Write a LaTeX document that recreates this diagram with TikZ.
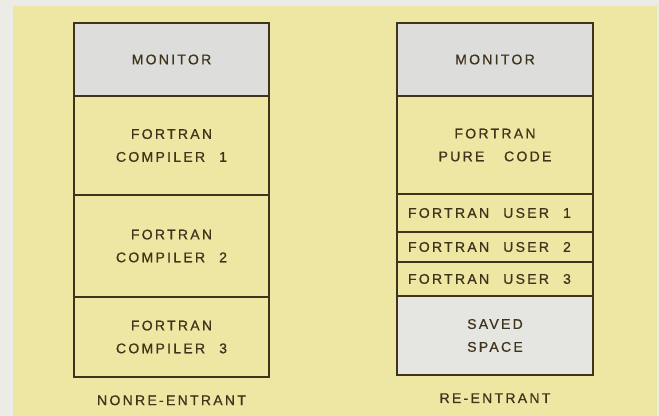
\documentclass[tikz,border=0pt]{standalone}
\usepackage{fontspec}
\setmainfont{Liberation Sans}[LetterSpace=16, FakeBold=0.7]
\usepackage{tikz}
\usetikzlibrary{positioning}
\definecolor{pagegray}{RGB}{236,236,231}
\definecolor{memyellow}{RGB}{238,231,163}
\definecolor{monitorgray}{RGB}{221,222,219}
\definecolor{savedgray}{RGB}{229,229,226}
\definecolor{inkbrown}{RGB}{62,52,28}
\newcommand{\wgap}{\hspace{1em}}

\begin{document}
\begin{tikzpicture}[
    memcell/.style={draw=inkbrown, line width=1.1pt, fill=memyellow, text=inkbrown,
        font=\fontsize{8}{13}\selectfont, align=center, inner sep=0pt},
    usercell/.style={memcell, text width=3.48cm, inner xsep=0.22cm, align=left},
    caption/.style={text=inkbrown, font=\fontsize{8}{10}\selectfont, inner sep=0pt}
]
    % Nền
    \useasboundingbox (0,0) rectangle (13.18,8.32);
    \fill[pagegray] (0,0) rectangle (13.18,8.32);
    \fill[memyellow] (0.26,0) rectangle (13.14,8.2);

    % Cột trái
    \node[memcell, fill=monitorgray, minimum width=3.9cm, minimum height=1.46cm] (mon_l) at (3.43, 7.13) {MONITOR};
    \node[memcell, minimum width=3.9cm, minimum height=1.98cm] (comp_a) at (3.43, 5.41) {FORTRAN\\COMPILER\wgap 1};
    \node[memcell, minimum width=3.9cm, minimum height=2.04cm] (comp_b) at (3.43, 3.40) {FORTRAN\\COMPILER\wgap 2};
    \node[memcell, minimum width=3.9cm, minimum height=1.6cm] (comp_c) at (3.43, 1.58) {FORTRAN\\COMPILER\wgap 3};
    \node[caption, below=0.34cm of comp_c] (lbl_l) {NONRE-ENTRANT};

    % Cột phải
    \node[memcell, fill=monitorgray, minimum width=3.92cm, minimum height=1.46cm] (mon_r) at (9.9, 7.13) {MONITOR};
    \node[memcell, minimum width=3.92cm, minimum height=1.96cm] (pure) at (9.9, 5.42) {FORTRAN\\PURE\hspace{1.4em}CODE};
    \node[usercell, minimum height=0.76cm] (user_a) at (9.9, 4.06) {FORTRAN\wgap USER\wgap 1};
    \node[usercell, minimum height=0.6cm] (user_b) at (9.9, 3.38) {FORTRAN\wgap USER\wgap 2};
    \node[usercell, minimum height=0.68cm] (user_c) at (9.9, 2.74) {FORTRAN\wgap USER\wgap 3};
    \node[memcell, fill=savedgray, minimum width=3.92cm, minimum height=1.58cm] (saved) at (9.9, 1.61) {SAVED\\SPACE};
    \node[caption, below=0.34cm of saved] (lbl_r) {RE-ENTRANT};
\end{tikzpicture}
\end{document}
